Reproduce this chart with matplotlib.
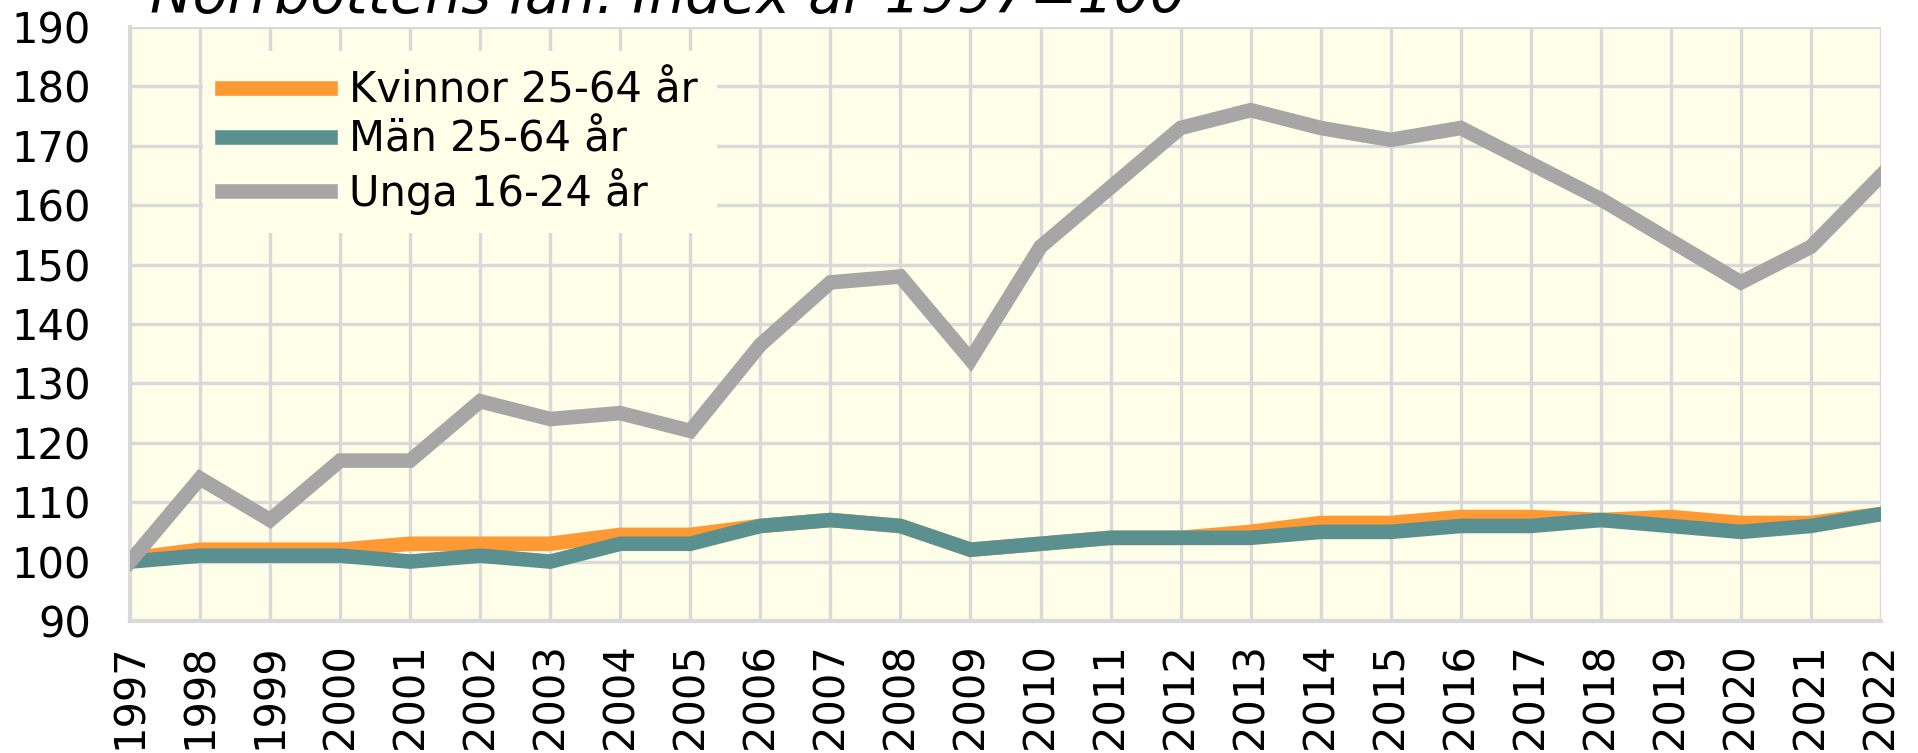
import matplotlib.pyplot as plt

# -----------------------------
# Data (index, 1997 = 100)
# -----------------------------
years = list(range(1997, 2023))
kvinnor = [100.5, 102, 102, 102, 103, 103, 103, 104.5, 104.5, 106, 107, 106, 102,
           103, 104, 104, 105, 106.5, 106.5, 107.5, 107.5, 107, 107.5, 106.5, 106.5, 108]
man = [100, 101, 101, 101, 100, 101, 100, 103, 103, 106, 107, 106, 102,
       103, 104, 104, 104, 105, 105, 106, 106, 107, 106, 105, 106, 108]
unga = [100, 114, 107, 117, 117, 127, 124, 125, 122, 136.5, 147, 148, 134,
        153, 163, 173, 176, 173, 171, 173, 167, 161, 154, 147, 153, 165]

labels = ["Kvinnor 25-64 år", "Män 25-64 år", "Unga 16-24 år"]
colors = ["#FF9933", "#5B9090", "#A6A6A6"]
title = "Norrbottens län. Index år 1997=100"

# -----------------------------
# Figure
# -----------------------------
fig = plt.figure(figsize=(19.18, 7.53), dpi=100)
ax = fig.add_axes([130 / 1918, 1 - 621 / 753, (1881 - 130) / 1918, (621 - 27) / 753])
ax.set_facecolor("#FFFEE8")

for series, lab, col in zip([kvinnor, man, unga], labels, colors):
    ax.plot(years, series, color=col, linewidth=10.5, label=lab,
            solid_joinstyle="miter", zorder=3)

ax.set_xlim(1997, 2022)
ax.set_ylim(90, 190)
ax.set_xticks(years)
ax.set_xticklabels([str(y) for y in years], rotation=90)
ax.set_yticks(range(90, 191, 10))

ax.grid(True, color="#D9D9D9", linewidth=2.4, zorder=0)
ax.set_axisbelow(True)
for side in ["top", "right"]:
    ax.spines[side].set_visible(False)
for side in ["left", "bottom"]:
    ax.spines[side].set_color("#D9D9D9")
    ax.spines[side].set_linewidth(3)

ax.tick_params(axis="both", length=0, labelsize=30)
ax.tick_params(axis="y", pad=28)
ax.tick_params(axis="x", pad=16)

leg = ax.legend(loc="upper left", bbox_to_anchor=(0.03, 0.995), fontsize=30,
                handlelength=2.6, handletextpad=0.45, labelspacing=0.17,
                frameon=True, fancybox=False, borderpad=0.45)
leg.get_frame().set_facecolor("#FFFEE8")
leg.get_frame().set_edgecolor("none")
leg.get_frame().set_alpha(1)
leg.set_zorder(4)

fig.text(150 / 1918, 1 - 13 / 753, title, fontsize=41, style="italic",
         va="baseline", ha="left")

fig.savefig("out.png", dpi=100)
plt.close(fig)
